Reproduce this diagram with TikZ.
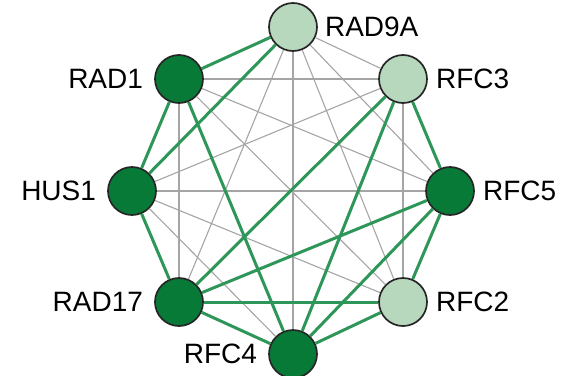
\documentclass[tikz,border=0pt]{standalone}
\usepackage{fontspec}
\setmainfont{Liberation Sans}
\definecolor{gdark}{RGB}{8,122,56}
\definecolor{glight}{RGB}{184,216,190}
\definecolor{gedge}{RGB}{46,150,88}
\definecolor{gthin}{RGB}{165,165,165}
\begin{document}
\begin{tikzpicture}[x=1pt,y=-1pt,
  gene/.style={circle, draw=black!85, line width=1.7pt, minimum size=48pt, inner sep=0pt},
  every label/.style={font=\fontsize{28}{30}\selectfont, inner sep=2pt},
  weak/.style={gthin, line width=1.1pt},
  strong/.style={gedge, line width=3pt}]
\useasboundingbox (0,0) rectangle (572,375);
\node[gene, fill=glight, label={[label distance=5pt]right:RAD9A}] (rad9a) at (293,27){};
\node[gene, fill=glight, label={[label distance=6pt]right:RFC3}] (rfc3) at (403,79){};
\node[gene, fill=gdark, label={[label distance=6pt]right:RFC5}] (rfc5) at (450,191){};
\node[gene, fill=glight, label={[label distance=6pt]right:RFC2}] (rfc2) at (403,302){};
\node[gene, fill=gdark, label={[label distance=9pt]left:RFC4}] (rfc4) at (293,354){};
\node[gene, fill=gdark, label={[label distance=9pt]left:RAD17}] (rad17) at (179,302){};
\node[gene, fill=gdark, label={[label distance=9pt]left:HUS1}] (hus1) at (132,191){};
\node[gene, fill=gdark, label={[label distance=9pt]left:RAD1}] (rad1) at (179,79){};
% weak links
\draw[weak](rad9a) -- (rfc3);
\draw[weak](rad9a) -- (rfc5);
\draw[weak](rad9a) -- (rfc2);
\draw[weak](rad9a) -- (rfc4);
\draw[weak](rad9a) -- (rad17);
\draw[weak](rad1) -- (rfc3);
\draw[weak](rad1) -- (rfc5);
\draw[weak](rad1) -- (rfc2);
\draw[weak](rad1) -- (rad17);
\draw[weak](hus1) -- (rfc3);
\draw[weak](hus1) -- (rfc5);
\draw[weak](hus1) -- (rfc2);
\draw[weak](hus1) -- (rfc4);
\draw[weak](rfc3) -- (rfc2);
% strong links
\draw[strong](rad9a) -- (rad1);
\draw[strong](rad9a) -- (hus1);
\draw[strong](rad1) -- (hus1);
\draw[strong](rad1) -- (rfc4);
\draw[strong](rfc3) -- (rad17);
\draw[strong](rfc3) -- (rfc4);
\draw[strong](rfc3) -- (rfc5);
\draw[strong](rfc5) -- (rad17);
\draw[strong](rfc5) -- (rfc4);
\draw[strong](rfc5) -- (rfc2);
\draw[strong](rad17) -- (hus1);
\draw[strong](rad17) -- (rfc2);
\draw[strong](rad17) -- (rfc4);
\draw[strong](rfc2) -- (rfc4);

\end{tikzpicture}
\end{document}
